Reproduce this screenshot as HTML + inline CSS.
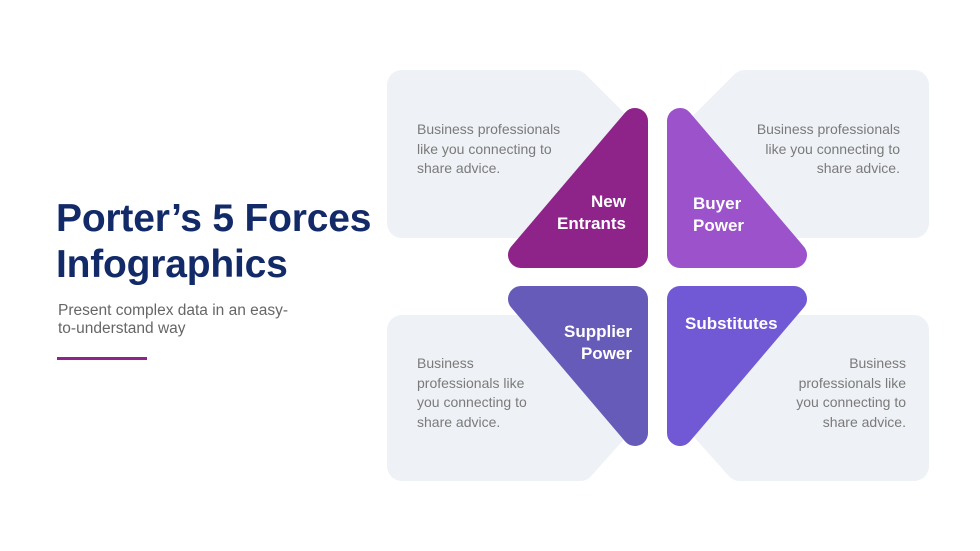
<!DOCTYPE html>
<html><head><style>
body{margin:0;width:980px;height:551px;background:#fff;overflow:hidden;position:relative;font-family:"Liberation Sans",sans-serif}
.t{position:absolute;color:#7a7a7a;font-size:14px;line-height:19.5px}
.w{position:absolute;color:#fff;font-weight:bold;font-size:17px;line-height:22px}
</style></head><body>
<svg width="980" height="551" style="position:absolute;left:0;top:0">
<g fill="#eef1f5" stroke="#eef1f5" stroke-width="30" stroke-linejoin="round">
<polygon points="402,85 575,85 630,140 630,223 402,223"/>
<polygon points="914,85 745,85 690,140 690,223 914,223"/>
<polygon points="402,330 630,330 630,410 580,466 402,466"/>
<polygon points="914,330 690,330 690,410 740,466 914,466"/>
</g>
<g stroke-width="26" stroke-linejoin="round">
<polygon points="635,121 521,255 635,255" fill="#8e2389" stroke="#8e2389"/>
<polygon points="680,121 794,255 680,255" fill="#9b52cb" stroke="#9b52cb"/>
<polygon points="521,299 635,299 635,433" fill="#665bb8" stroke="#665bb8"/>
<polygon points="680,299 794,299 680,433" fill="#7159d5" stroke="#7159d5"/>
</g>
<rect x="57" y="357" width="90" height="3" fill="#8e2389"/>
</svg>
<div style="position:absolute;left:56px;top:196px;font-size:39px;font-weight:bold;color:#132a69;line-height:46px;letter-spacing:-0.2px">Porter’s 5 Forces<br>Infographics</div>
<div style="position:absolute;left:58px;top:302px;font-size:15.5px;color:#666;line-height:18px">Present complex data in an easy-<br>to-understand way</div>
<div class="t" style="left:417px;top:120px">Business professionals<br>like you connecting to<br>share advice.</div>
<div class="t" style="right:80px;top:120px;text-align:right">Business professionals<br>like you connecting to<br>share advice.</div>
<div class="t" style="left:417px;top:354px">Business<br>professionals like<br>you connecting to<br>share advice.</div>
<div class="t" style="right:74px;top:354px;text-align:right">Business<br>professionals like<br>you connecting to<br>share advice.</div>
<div class="w" style="right:354px;top:191px;text-align:right">New<br>Entrants</div>
<div class="w" style="left:693px;top:193px">Buyer<br>Power</div>
<div class="w" style="right:348px;top:321px;text-align:right">Supplier<br>Power</div>
<div class="w" style="left:685px;top:313px">Substitutes</div>
</body></html>
